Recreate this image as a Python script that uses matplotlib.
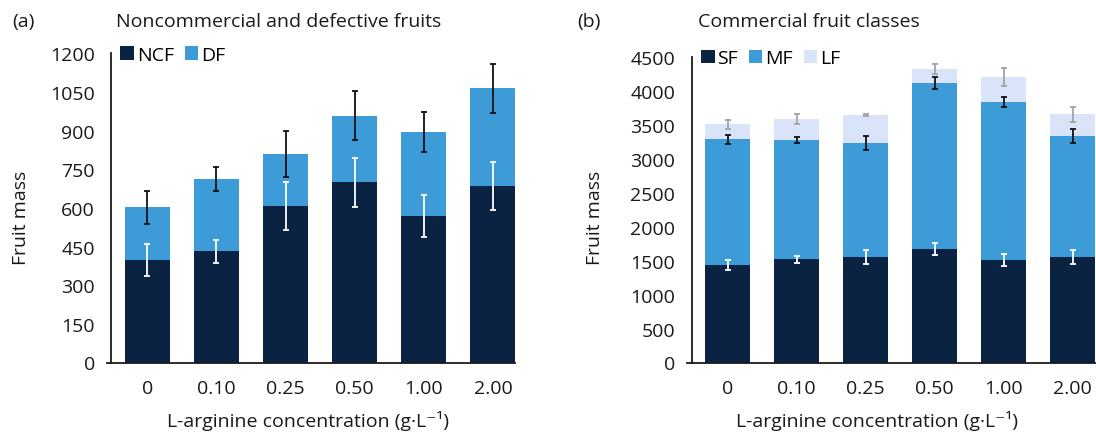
import matplotlib
matplotlib.use("Agg")
import matplotlib.pyplot as plt
import numpy as np

plt.rcParams['font.family'] = ['Open Sans', 'DejaVu Sans']

# Treatment levels (L-arginine, g/L)
concentrations = ["0", "0.10", "0.25", "0.50", "1.00", "2.00"]

# Panel (a): noncommercial and defective fruits (stacked)
ncf = [397, 432, 607, 700, 568, 685]
ncf_err = [63, 45, 94, 95, 82, 95]
df = [206, 280, 202, 257, 327, 380]
total_a_err = [64, 45, 90, 95, 78, 95]

# Panel (b): commercial fruit classes (stacked)
sf = [1433, 1521, 1551, 1668, 1506, 1551]
sf_err = [69, 52, 98, 86, 86, 98]
mf = [1855, 1752, 1678, 2444, 2326, 1781]
mf_err = [66, 39, 98, 93, 74, 98]
lf = [215, 309, 412, 206, 368, 319]
lf_err = [71, 74, 12, 74, 128, 115]

DARK = "#0b2343"
MID = "#3d9bd7"
LIGHT = "#dae4f8"
FS = 14

fig = plt.figure(figsize=(10.96, 4.35), dpi=100)
W, H = 1096, 435


def make_axes(left_px, right_px, top_px, bottom_px):
    return fig.add_axes([left_px / W, 1 - bottom_px / H,
                         (right_px - left_px) / W, (bottom_px - top_px) / H])


def style_axes(ax, ymax, step):
    ax.set_xlim(-0.59, 5.315)
    ax.set_ylim(0, ymax)
    ax.set_yticks(np.arange(0, ymax + 1, step))
    ax.set_xticks(range(len(concentrations)))
    ax.set_xticklabels(concentrations)
    for s in ("top", "right"):
        ax.spines[s].set_visible(False)
    ax.spines["left"].set_position(("data", -0.52))
    ax.spines["left"].set_color("#1a1a1a")
    ax.spines["bottom"].set_color("#1a1a1a")
    ax.spines["left"].set_linewidth(1.3)
    ax.spines["bottom"].set_linewidth(1.3)
    ax.tick_params(axis="both", length=0, labelsize=FS, colors="#1a1a1a")
    ax.tick_params(axis="y", pad=12)
    ax.tick_params(axis="x", pad=12)


x = np.arange(len(concentrations))
bw = 0.655
ekw = dict(fmt="none", capsize=2.4, elinewidth=1.3, capthick=1.3)

# ---- Panel (a)
axa = make_axes(106.6, 514.7, 54.3, 363.5)
axa.bar(x, ncf, bw, color=DARK, label="NCF", zorder=2)
axa.bar(x, df, bw, bottom=ncf, color=MID, label="DF", zorder=2)
top_a = np.array(ncf) + np.array(df)
axa.errorbar(x, ncf, yerr=ncf_err, ecolor="white", zorder=3, **ekw)
axa.errorbar(x, top_a, yerr=total_a_err, ecolor="#111111", zorder=3, **ekw)
style_axes(axa, 1200, 150)
axa.legend(loc="upper left", bbox_to_anchor=(0.015, 1.05), frameon=False,
           ncol=2, fontsize=FS, handlelength=0.7, handleheight=0.7,
           handletextpad=0.15, columnspacing=0.55, borderaxespad=0)

# ---- Panel (b)
axb = make_axes(687.1, 1094.5, 57.7, 363.5)
axb.bar(x, sf, bw, color=DARK, label="SF", zorder=2)
mid_b = np.array(sf) + np.array(mf)
axb.bar(x, mf, bw, bottom=sf, color=MID, label="MF", zorder=2)
axb.bar(x, lf, bw, bottom=mid_b, color=LIGHT, label="LF", zorder=2)
top_b = mid_b + np.array(lf)
axb.errorbar(x, sf, yerr=sf_err, ecolor="white", zorder=3, **ekw)
axb.errorbar(x, mid_b, yerr=mf_err, ecolor="#111111", zorder=3, **ekw)
axb.errorbar(x, top_b, yerr=lf_err, ecolor="#a3a3a3", zorder=3, **ekw)
style_axes(axb, 4500, 500)
axb.legend(loc="upper left", bbox_to_anchor=(0.015, 1.05), frameon=False,
           ncol=3, fontsize=FS, handlelength=0.7, handleheight=0.7,
           handletextpad=0.15, columnspacing=0.55, borderaxespad=0)

# ---- Panel letters, titles and axis labels
tc = "#1a1a1a"
fig.text(12 / W, 1 - 22 / H, "(a)", fontsize=14, va="center", ha="left", color=tc)
fig.text(116 / W, 1 - 22 / H, "Noncommercial and defective fruits", fontsize=14,
         va="center", ha="left", color=tc)
fig.text(577 / W, 1 - 22 / H, "(b)", fontsize=14, va="center", ha="left", color=tc)
fig.text(698 / W, 1 - 22 / H, "Commercial fruit classes", fontsize=14,
         va="center", ha="left", color=tc)

xlabel = "L-arginine concentration (g·L⁻¹)"
fig.text(308 / W, 1 - 421 / H, xlabel, fontsize=14, ha="center", va="center", color=tc)
fig.text(877 / W, 1 - 421 / H, xlabel, fontsize=14, ha="center", va="center", color=tc)
fig.text(21 / W, 1 - 218 / H, "Fruit mass", fontsize=14, rotation=90,
         ha="center", va="center", color=tc)
fig.text(595 / W, 1 - 218 / H, "Fruit mass", fontsize=14, rotation=90,
         ha="center", va="center", color=tc)

fig.savefig("out.png", dpi=100)
